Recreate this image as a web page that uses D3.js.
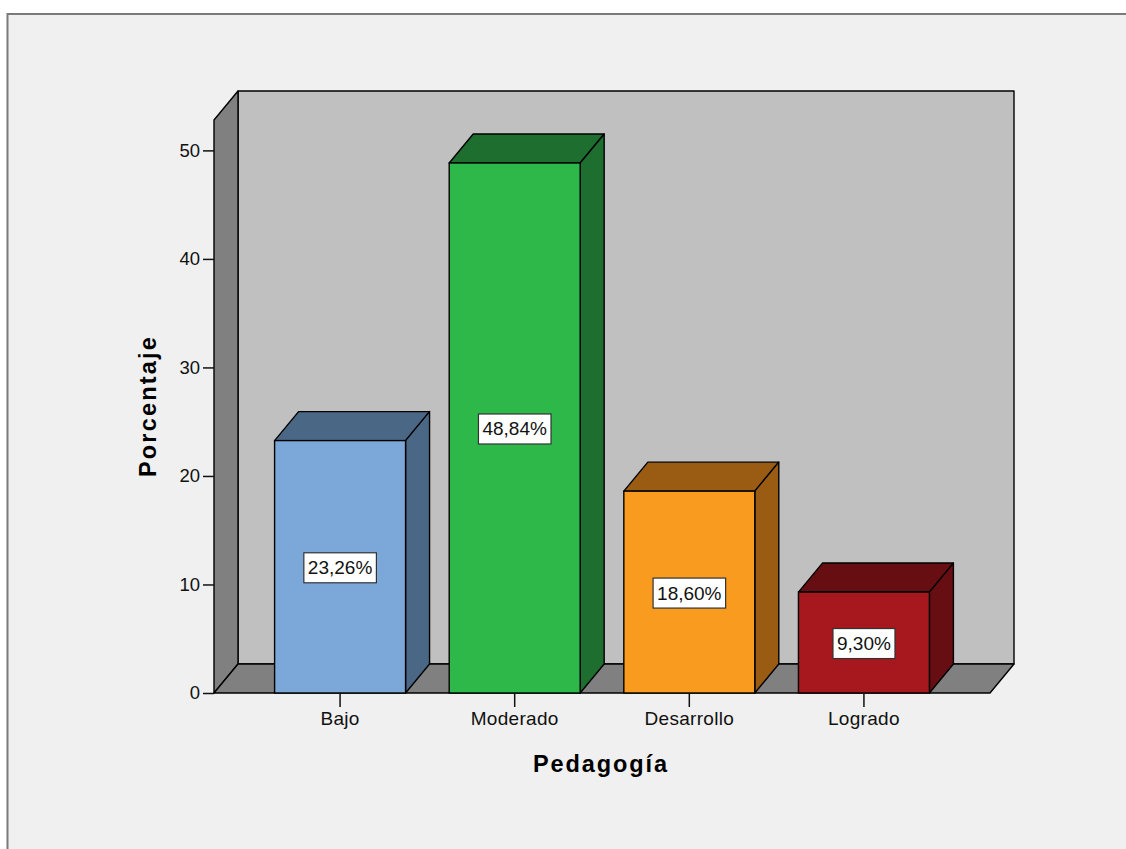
<!DOCTYPE html>
<html>
<head>
<meta charset="utf-8">
<script src="https://cdn.jsdelivr.net/npm/d3@7"></script>
<style>
  html, body { margin: 0; padding: 0; background: #ffffff; }
  svg { display: block; font-family: "Liberation Sans", Arial, sans-serif; }
</style>
</head>
<body>
<svg id="chart" width="1126" height="849"></svg>
<script>
// Pedagogía — porcentaje por nivel
const categories = ["Bajo", "Moderado", "Desarrollo", "Logrado"];
const values = [23.26, 48.84, 18.60, 9.30];
const valueLabels = ["23,26%", "48,84%", "18,60%", "9,30%"];
const yTicks = [0, 10, 20, 30, 40, 50];
const frontColors = ["#7ba8d8", "#2eb84a", "#f99b1f", "#a6181d"];
const sideColors = ["#4a6886", "#1e6e2f", "#9a5c13", "#660e11"];

const svg = d3.select("#chart");

// outer panel
svg.append("rect")
  .attr("x", 7.5).attr("y", 14)
  .attr("width", 1200).attr("height", 900)
  .attr("fill", "#f0f0f0")
  .attr("stroke", "#7a7a7a").attr("stroke-width", 2);

// plot geometry
const plotLeft = 214, plotRight = 990, plotBottom = 693, plotTop = 120;
const dx = 24, dy = 29;

const y = d3.scaleLinear().domain([0, 52.8]).range([plotBottom, plotTop]);
const x = d3.scaleBand().domain(categories).range([plotLeft, plotRight])
  .paddingInner(0.25).paddingOuter(0.347);

const edge = { stroke: "#000", "stroke-width": 1.4, "stroke-linejoin": "round" };
function poly(g, pts, fill) {
  const p = g.append("polygon")
    .attr("points", pts.map(d => d.join(",")).join(" "))
    .attr("fill", fill);
  Object.entries(edge).forEach(([k, v]) => p.attr(k, v));
  return p;
}

const walls = svg.append("g");
// back wall
poly(walls, [[plotLeft + dx, plotTop - dy], [plotRight + dx, plotTop - dy], [plotRight + dx, plotBottom - dy], [plotLeft + dx, plotBottom - dy]], "#c0c0c0");
// left wall
poly(walls, [[plotLeft, plotBottom], [plotLeft, plotTop], [plotLeft + dx, plotTop - dy], [plotLeft + dx, plotBottom - dy]], "#808080");
// floor
poly(walls, [[plotLeft, plotBottom], [plotLeft + dx, plotBottom - dy], [plotRight + dx, plotBottom - dy], [plotRight, plotBottom]], "#808080");

// y axis
const yAxis = svg.append("g")
  .attr("transform", `translate(${plotLeft},0)`)
  .call(d3.axisLeft(y).tickValues(yTicks).tickSize(11).tickPadding(3).tickFormat(d3.format("d")));
yAxis.select(".domain").remove();
yAxis.selectAll(".tick line").attr("stroke", "#111").attr("stroke-width", 1.5);
yAxis.selectAll(".tick text").attr("font-size", 18.5).attr("fill", "#111")
  .attr("font-family", "Liberation Sans, Arial, sans-serif");

// x axis
const xAxis = svg.append("g")
  .attr("transform", `translate(0,${plotBottom + 1})`)
  .call(d3.axisBottom(x).tickSize(13).tickPadding(5));
xAxis.select(".domain").remove();
xAxis.selectAll(".tick line").attr("stroke", "#111").attr("stroke-width", 1.5);
xAxis.selectAll(".tick text").attr("font-size", 19).attr("fill", "#111")
  .attr("letter-spacing", 0.3)
  .attr("font-family", "Liberation Sans, Arial, sans-serif");

// bars
const bars = svg.append("g");
categories.forEach((c, i) => {
  const x0 = x(c), x1 = x0 + x.bandwidth();
  const yv = y(values[i]), y0 = y(0);
  const g = bars.append("g");
  // top face
  poly(g, [[x0, yv], [x0 + dx, yv - dy], [x1 + dx, yv - dy], [x1, yv]], sideColors[i]);
  // side face
  poly(g, [[x1, yv], [x1 + dx, yv - dy], [x1 + dx, y0 - dy], [x1, y0]], sideColors[i]);
  // front face
  g.append("rect")
    .attr("x", x0).attr("y", yv)
    .attr("width", x.bandwidth()).attr("height", y0 - yv)
    .attr("fill", frontColors[i])
    .attr("stroke", "#000").attr("stroke-width", 1.4);
});

// value labels
const labels = svg.append("g");
categories.forEach((c, i) => {
  const cx = x(c) + x.bandwidth() / 2;
  const cy = y(values[i] / 2) + 1;
  const g = labels.append("g");
  const t = g.append("text")
    .attr("x", cx).attr("y", cy)
    .attr("text-anchor", "middle")
    .attr("dominant-baseline", "central")
    .attr("font-size", 19)
    .attr("fill", "#111")
    .text(valueLabels[i]);
  const bb = t.node().getBBox();
  g.insert("rect", "text")
    .attr("x", bb.x - 4).attr("y", cy - 15)
    .attr("width", bb.width + 8).attr("height", 30)
    .attr("fill", "#ffffff")
    .attr("stroke", "#333").attr("stroke-width", 1.2);
});

// axis titles
svg.append("text")
  .attr("x", 601).attr("y", 772)
  .attr("text-anchor", "middle")
  .attr("font-size", 23.5).attr("font-weight", "bold")
  .attr("letter-spacing", 1.9)
  .attr("fill", "#000")
  .text("Pedagogía");

svg.append("text")
  .attr("transform", "translate(156,406) rotate(-90)")
  .attr("text-anchor", "middle")
  .attr("font-size", 23.5).attr("font-weight", "bold")
  .attr("letter-spacing", 2.2)
  .attr("fill", "#000")
  .text("Porcentaje");
</script>
</body>
</html>
